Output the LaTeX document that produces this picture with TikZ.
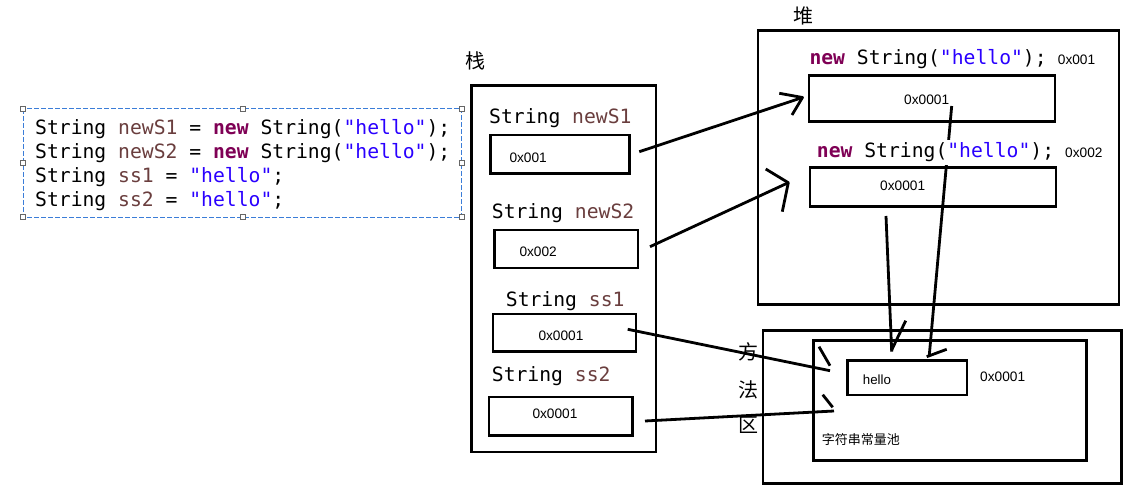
\documentclass[tikz,border=0pt]{standalone}
\usepackage{fontspec}
\setmainfont{Liberation Sans}
\setmonofont{DejaVu Sans Mono}
\newfontfamily\cjk{Noto Sans CJK SC}
\definecolor{kwc}{HTML}{7F0055}
\definecolor{varc}{HTML}{6A3E3E}
\definecolor{strc}{HTML}{2A00FF}
\definecolor{dashc}{HTML}{3B7DD8}
\newcommand\jkw[1]{{\bfseries\color{kwc}#1}}
\newcommand\jvar[1]{{\color{varc}#1}}
\newcommand\jstr[1]{{\color{strc}#1}}
\begin{document}
\begin{tikzpicture}[x=1pt,y=-1pt,
  box/.style={draw, line width=2.8pt, inner sep=0pt},
  code/.style={font=\ttfamily\fontsize{19.7}{24}\selectfont, inner sep=0pt, anchor=base west},
  small/.style={font=\fontsize{13.7}{16}\selectfont, inner sep=0pt, anchor=base west},
  cjkl/.style={font=\cjk\fontsize{20}{24}\selectfont, inner sep=0pt},
  pen/.style={line width=2.8pt, line join=round},
  handle/.style={draw=gray!80!black, fill=white, line width=0.8pt, minimum size=5pt, inner sep=0pt}]
\useasboundingbox (0,0) rectangle (1143,494);
\fill[white] (0,0) rectangle (1143,494);

% code block
\draw[dashc, line width=1pt, dash pattern=on 5pt off 2pt] (23.3,109) rectangle (461.7,217.3);
\foreach \hx/\hy [count=\i] in {23.3/109, 243.3/109, 461.7/109, 23.3/163.3, 461.7/163.3, 23.3/217.3, 243.3/217.3, 461.7/217.3}
  \node[handle] (h\i) at (\hx,\hy) {};
\node[code] (c1) at (35,135) {String \jvar{newS1} = \jkw{new} String(\jstr{"hello"});};
\node[code] (c2) at (35,159) {String \jvar{newS2} = \jkw{new} String(\jstr{"hello"});};
\node[code] (c3) at (35,183) {String \jvar{ss1} = \jstr{"hello"};};
\node[code] (c4) at (35,207) {String \jvar{ss2} = \jstr{"hello"};};

% stack
\node[cjkl] (stk) at (475.5,61) {栈};
\node[box, minimum width=184.5pt, minimum height=366.5pt] (stack) at (563.75,268.75) {};
\node[code] (l1) at (489,123.3) {String \jvar{newS1}};
\node[box, minimum width=138.8pt, minimum height=38.5pt] (b1) at (560.1,154.25) {};
\node[small] (t1) at (509.3,162.3) {0x001};
\node[code] (l2) at (491.7,219) {String \jvar{newS2}};
\node[box, minimum width=143.3pt, minimum height=38pt] (b2) at (566.35,249) {};
\node[small] (t2) at (519.3,256.7) {0x002};
\node[code] (l3) at (505.7,306.7) {String \jvar{ss1}};
\node[box, minimum width=143pt, minimum height=37.5pt] (b3) at (564.5,332.75) {};
\node[small] (t3) at (538.3,340.7) {0x0001};
\node[code] (l4) at (491.7,381.7) {String \jvar{ss2}};
\node[box, minimum width=143.5pt, minimum height=38.5pt] (b4) at (560.75,416.25) {};
\node[small] (t4) at (532.3,418.3) {0x0001};

% heap
\node[cjkl] (hp) at (803,16) {堆};
\node[box, minimum width=361pt, minimum height=274.4pt] (heap) at (938.5,167.5) {};
\node[box, minimum width=246pt, minimum height=46pt] (hA) at (932,98.3) {};
\node[box, minimum width=246pt, minimum height=39pt] (hB) at (933,186.8) {};
\node[code] (n1) at (809.3,65) {\jkw{new} String(\jstr{"hello"});};
\node[small] (a1) at (1057.7,65) {0x001};
\node[small] (tA) at (904,105) {0x0001};
\node[small] (tB) at (880,191) {0x0001};

% method area
\node[cjkl] (m1) at (748,352) {方};
\node[cjkl] (m2) at (748,389.5) {法};
\node[cjkl] (m3) at (748,425) {区};
\node[box, minimum width=358.7pt, minimum height=153pt] (meth) at (942.35,407.2) {};
\node[box, minimum width=273pt, minimum height=120pt] (pool) at (950.2,400.7) {};
\node[box, minimum width=119.5pt, minimum height=34.3pt] (hello) at (907.25,377.85) {};
\node[small, font=\fontsize{13.3}{16}\selectfont] (th) at (862.7,384) {hello};
\node[small] (tp) at (980,381) {0x0001};
\node[font=\cjk\fontsize{13}{16}\selectfont, inner sep=0pt, anchor=west] (pl) at (821.7,440) {字符串常量池};

% connectors
\coordinate (s1) at (639.3,151.7); \coordinate (e1) at (802.5,97.5);
\coordinate (p1a) at (779.3,93.3); \coordinate (p1b) at (792,115);
\draw[pen] (s1) -- (e1); \draw[pen] (p1a) -- (e1) -- (p1b);

\coordinate (s2) at (650,246.7); \coordinate (e2) at (788.3,182.7);
\coordinate (p2a) at (765.7,169); \coordinate (p2b) at (782.3,211.7);
\draw[pen] (s2) -- (e2); \draw[pen] (p2a) -- (e2) -- (p2b);

\coordinate (s3) at (627.7,329.3); \coordinate (e3) at (830,370.7);
\coordinate (p3a) at (819,346.7); \coordinate (p3b) at (830,365.7);
\draw[pen] (s3) -- (e3); \draw[pen] (p3a) -- (p3b);

\coordinate (s4) at (645,421); \coordinate (e4) at (834,411);
\coordinate (p4a) at (822.7,394.7); \coordinate (p4b) at (832.7,407.3);
\draw[pen] (s4) -- (e4); \draw[pen] (p4a) -- (p4b);

\coordinate (s5) at (886,216); \coordinate (e5) at (891.7,351.7);
\coordinate (p5a) at (905.7,320.7); \coordinate (p5b) at (891.7,350);
\draw[pen] (s5) -- (e5); \draw[pen] (p5a) -- (p5b);

\coordinate (s6) at (951.7,106); \coordinate (e6) at (929.3,355);
\coordinate (p6a) at (926.7,356.7); \coordinate (p6b) at (946.7,349.3);
\draw[pen] (s6) -- (e6); \draw[pen] (p6a) -- (p6b);

% heap second label drawn over the line
\node[code, fill=white, inner xsep=0pt, inner ysep=3pt] (n2) at (816.7,157.7) {\jkw{new} String(\jstr{"hello"});};
\node[small] (a2) at (1065,157.7) {0x002};
\end{tikzpicture}
\end{document}
